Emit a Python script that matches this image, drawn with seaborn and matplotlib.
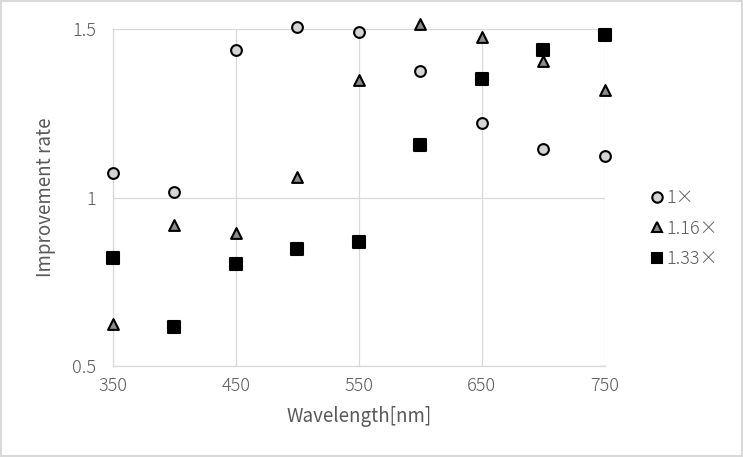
import matplotlib
matplotlib.use("Agg")
import matplotlib.pyplot as plt
import seaborn as sns
import pandas as pd
from matplotlib.lines import Line2D
from matplotlib.patches import Rectangle

wavelength = [350, 400, 450, 500, 550, 600, 650, 700, 750]
series_names = ["1×", "1.16×", "1.33×"]
rate_1x = [1.073, 1.016, 1.438, 1.506, 1.491, 1.375, 1.221, 1.144, 1.123]
rate_116x = [0.625, 0.918, 0.895, 1.061, 1.349, 1.515, 1.476, 1.405, 1.319]
rate_133x = [0.820, 0.616, 0.803, 0.847, 0.868, 1.156, 1.352, 1.438, 1.482]
x_ticks = [350, 450, 550, 650, 750]
y_ticks = [0.5, 1, 1.5]
y_tick_labels = ["0.5", "1", "1.5"]

df = pd.DataFrame({
    "Wavelength": wavelength * 3,
    "Rate": rate_1x + rate_116x + rate_133x,
    "Series": [series_names[0]] * 9 + [series_names[1]] * 9 + [series_names[2]] * 9,
})

sns.set_theme(style="white")
plt.rcParams["font.family"] = ["Noto Sans CJK JP", "DejaVu Sans"]
plt.rcParams["font.weight"] = "light"

fig = plt.figure(figsize=(7.43, 4.57), dpi=100)
ax = fig.add_axes([0.152, 0.199, 0.662, 0.7375])

styles = {
    series_names[0]: dict(marker="o", face="#d4d4d4", s=60),
    series_names[1]: dict(marker="^", face="#8c8c8c", s=60),
    series_names[2]: dict(marker="s", face="#000000", s=75),
}
for name in series_names:
    st = styles[name]
    sns.scatterplot(data=df[df["Series"] == name], x="Wavelength", y="Rate",
                    marker=st["marker"], color=st["face"], edgecolor="black",
                    linewidth=1.5, s=st["s"], ax=ax, zorder=3, clip_on=False,
                    legend=False)

ax.set_xlim(350, 750)
ax.set_ylim(0.5, 1.5)
ax.set_xticks(x_ticks)
ax.set_yticks(y_ticks)
ax.set_yticklabels(y_tick_labels)
ax.grid(True, color="#d9d9d9", linewidth=0.9)
for sp in ["top", "right"]:
    ax.spines[sp].set_visible(False)
for sp in ["left", "bottom"]:
    ax.spines[sp].set_color("#d9d9d9")
    ax.spines[sp].set_linewidth(0.9)
ax.tick_params(axis="both", length=0, colors="#595959", labelsize=13)
ax.tick_params(axis="x", pad=8)
ax.tick_params(axis="y", pad=12)
ax.set_xlabel("Wavelength[nm]", color="#595959", fontsize=13.5, labelpad=8)
ax.set_ylabel("Improvement rate", color="#595959", fontsize=13.5, labelpad=12)

handles = []
for name in series_names:
    st = styles[name]
    handles.append(Line2D([], [], linestyle="none", marker=st["marker"],
                          markerfacecolor=st["face"], markeredgecolor="black",
                          markeredgewidth=1.5, markersize=7.5))
leg = ax.legend(handles, series_names, loc="center left",
                bbox_to_anchor=(1.073, 0.408), frameon=False, fontsize=13,
                handletextpad=0.0, handlelength=1.0, labelspacing=0.7,
                borderaxespad=0)
for t in leg.get_texts():
    t.set_color("#595959")

fig.patches.append(Rectangle((0.002, 0.003), 0.996, 0.994, transform=fig.transFigure,
                             fill=False, edgecolor="#d9d9d9", linewidth=1.5))

fig.savefig("out.png", dpi=100)
